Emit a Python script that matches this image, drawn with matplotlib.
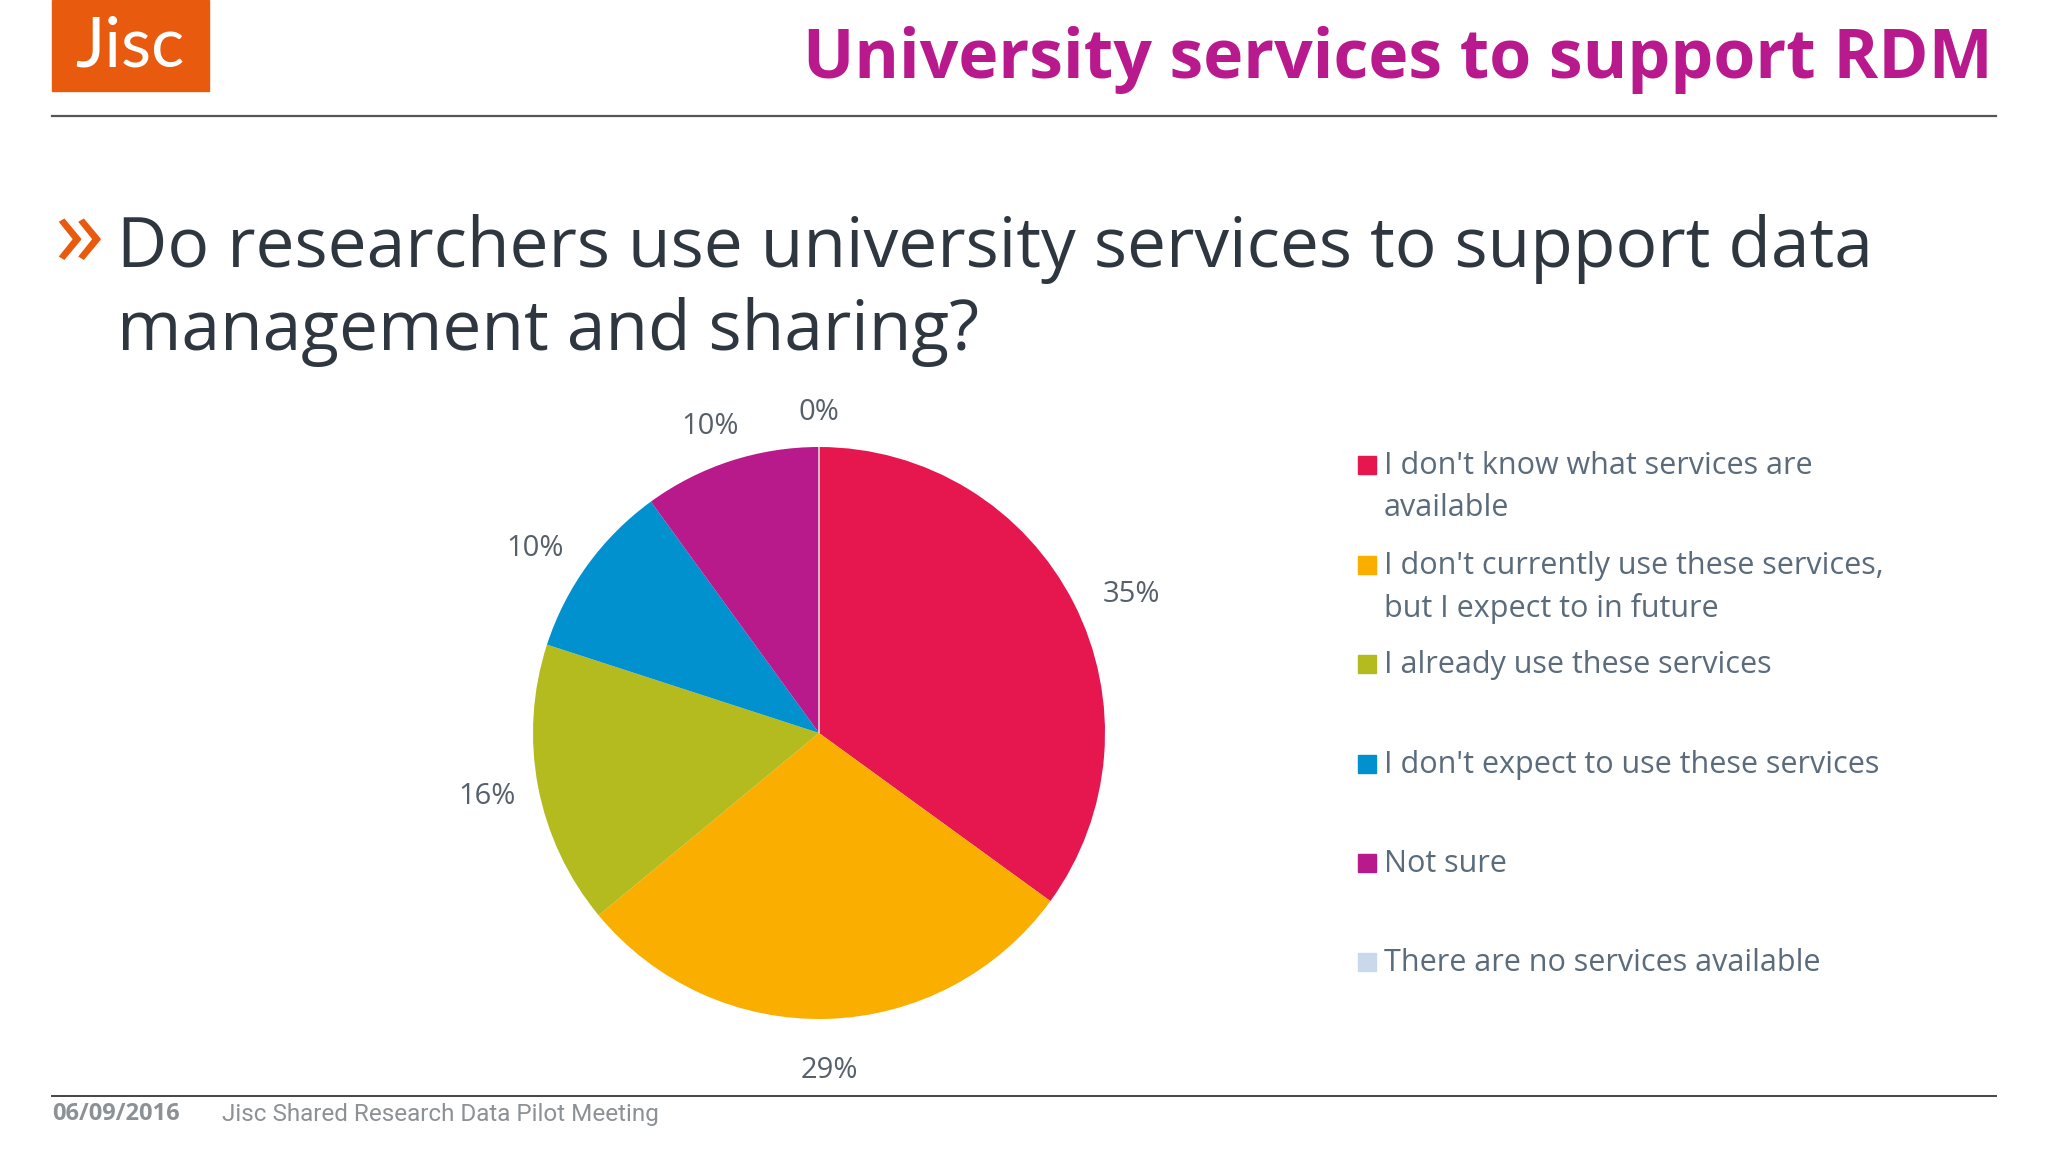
import numpy as np
import matplotlib
matplotlib.use("Agg")
import matplotlib.pyplot as plt
import matplotlib.patches as mpatches

# ── Data ─────────────────────────────────────────────────────────────────
CATEGORIES = [
    "I don't know what services are\navailable",
    "I don't currently use these services,\nbut I expect to in future",
    "I already use these services",
    "I don't expect to use these services",
    "Not sure",
    "There are no services available",
]
SHARES = [35, 29, 16, 10, 10, 0]
COLORS = ["#E6174F", "#F9AE00", "#B3BB1E", "#0091CE", "#B8198B", "#C9D9EB"]

TITLE = "University services to support RDM"
QUESTION = "Do researchers use university services to support data\nmanagement and sharing?"
FOOT_DATE = "06/09/2016"
FOOT_TEXT = "Jisc Shared Research Data Pilot Meeting"

# legend row centres (px from top of a 2048x1152 canvas)
LEGEND_Y = [464, 564, 663, 763, 862, 961]

W, H = 2048, 1152
FONT = ["Open Sans", "DejaVu Sans"]


def fx(px):
    return px / W


def fy(py):
    return 1 - py / H


fig = plt.figure(figsize=(20.48, 11.52), dpi=100, facecolor="white")

# ── Header ───────────────────────────────────────────────────────────────
fig.patches.append(mpatches.Rectangle((fx(52), fy(91)), fx(209) - fx(52), fy(0) - fy(91),
                                      transform=fig.transFigure, color="#E85A0E", zorder=1))
fig.text(fx(130), fy(47), "Jisc", color="white", fontsize=50, family=["Lato", "DejaVu Sans"],
         ha="center", va="center")
fig.add_artist(plt.Line2D([fx(52), fx(1996)], [fy(116), fy(116)], color="#555555", lw=1.6))
fig.text(fx(1993), fy(60), TITLE, color="#B81A8D", fontsize=49, fontweight="bold",
         family=FONT, ha="right", va="center")

# ── Question ─────────────────────────────────────────────────────────────
fig.text(fx(54), fy(240), "»", color="#E85A0E", fontsize=72,
         family=FONT, ha="left", va="center")
fig.text(fx(117), fy(214), QUESTION, color="#2E3640", fontsize=50, family=FONT,
         ha="left", va="top", linespacing=1.24)

# ── Pie ──────────────────────────────────────────────────────────────────
cx, cy, r = 819, 733, 286
lim = 1.4
side = 2 * lim * r
ax = fig.add_axes([fx(cx - side / 2), (H - cy - side / 2) / H, side / W, side / H])
wedges, texts = ax.pie(
    SHARES, colors=COLORS, startangle=90, counterclock=False,
    labels=[f"{v}%" for v in SHARES], labeldistance=1.18,
    wedgeprops=dict(linewidth=0),
    textprops=dict(fontsize=21, color="#56606B", family=FONT),
)
for t in texts:
    t.set_ha("center")
    t.set_va("center")
    x, y = t.get_position()
    if y > 0:
        t.set_position((x * 1.04, y - 0.05))
wedges[-1].set_edgecolor("#D8D8E0")
wedges[-1].set_linewidth(1.2)
texts[-1].set_position((0, 1.12))
ax.set_xlim(-lim, lim)
ax.set_ylim(-lim, lim)
ax.set_aspect("equal")
ax.axis("off")

# ── Legend ───────────────────────────────────────────────────────────────
for label, col, yc in zip(CATEGORIES, COLORS, LEGEND_Y):
    fig.patches.append(mpatches.Rectangle((fx(1358), fy(yc + 10)), fx(18), 18 / H,
                                          transform=fig.transFigure, color=col))
    if "\n" in label:
        fig.text(fx(1384), fy(yc - 13), label, color="#5A6B7C", fontsize=22, family=FONT,
                 ha="left", va="top", linespacing=1.5)
    else:
        fig.text(fx(1384), fy(yc + 2), label, color="#5A6B7C", fontsize=22, family=FONT,
                 ha="left", va="center")

# ── Footer ───────────────────────────────────────────────────────────────
fig.add_artist(plt.Line2D([fx(52), fx(1996)], [fy(1096), fy(1096)], color="#444444", lw=1.4))
fig.text(fx(52), fy(1114), FOOT_DATE, color="#8C9196", fontsize=17, fontweight="bold",
         family=FONT, ha="left", va="center")
fig.text(fx(222), fy(1114), FOOT_TEXT, color="#8C9196", fontsize=17.5,
         family=["Roboto", "DejaVu Sans"], ha="left", va="center")

fig.savefig("out.png", dpi=100, facecolor="white")
